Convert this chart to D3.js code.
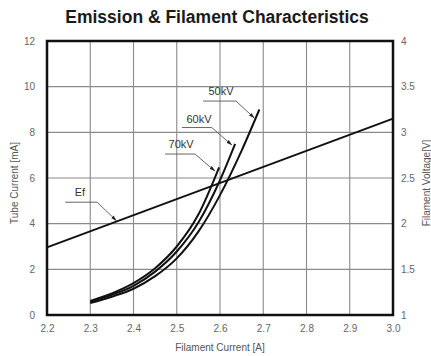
<!DOCTYPE html>
<html>
<head>
<meta charset="utf-8">
<script src="https://cdn.jsdelivr.net/npm/d3@7"></script>
<style>
  body { margin: 0; background: #fff; }
  text { font-family: "Liberation Sans", Arial, sans-serif; }
</style>
</head>
<body>
<div id="container"></div>
<script>
// data
const xTicks = [2.2, 2.3, 2.4, 2.5, 2.6, 2.7, 2.8, 2.9, 3.0];
const yTicks = [0, 2, 4, 6, 8, 10, 12];
const vTicks = [1, 1.5, 2, 2.5, 3, 3.5, 4];

// tube current [mA] vs filament current [A]
const kv50 = [[2.30, 0.52], [2.35, 0.80], [2.40, 1.15], [2.45, 1.70], [2.50, 2.48], [2.55, 3.65], [2.60, 5.25], [2.65, 7.2], [2.691, 9.0]];
const kv60 = [[2.30, 0.58], [2.35, 0.88], [2.40, 1.28], [2.45, 1.90], [2.50, 2.78], [2.55, 4.05], [2.60, 5.9], [2.635, 7.49]];
const kv70 = [[2.30, 0.62], [2.35, 0.95], [2.40, 1.40], [2.45, 2.05], [2.50, 3.0], [2.55, 4.4], [2.598, 6.47]];
// filament voltage [V] vs filament current [A]
const ef = [[2.2, 1.74], [3.0, 3.15]];

// labels with leader lines (data units: A, mA)
const notes = [
  { text: "50kV", at: [2.6024, 9.64], pts: [[2.561, 9.37], [2.637, 9.37], [2.679, 8.63]] },
  { text: "60kV", at: [2.5515, 8.41], pts: [[2.512, 8.21], [2.581, 8.21], [2.627, 7.45]] },
  { text: "70kV", at: [2.510, 7.31], pts: [[2.473, 7.05], [2.542, 7.05], [2.588, 6.31]] },
  { text: "Ef", at: [2.276, 5.19], pts: [[2.242, 4.94], [2.316, 4.94], [2.36, 4.14]] }
];

const W = 431, H = 356;
const m = { top: 41, right: 38, bottom: 41, left: 47 };

const svg = d3.select("#container").append("svg")
  .attr("width", W)
  .attr("height", H);

const x = d3.scaleLinear().domain([2.2, 3.0]).range([m.left, W - m.right]);
const y = d3.scaleLinear().domain([0, 12]).range([H - m.bottom, m.top]);
const yV = d3.scaleLinear().domain([1, 4]).range([H - m.bottom, m.top]);

// arrow head
svg.append("defs").append("marker")
  .attr("id", "arr")
  .attr("viewBox", "0 0 10 10")
  .attr("refX", 9).attr("refY", 5)
  .attr("markerWidth", 6).attr("markerHeight", 6)
  .attr("orient", "auto")
  .append("path").attr("d", "M0,2 L10,5 L0,8 Z").attr("fill", "#222");

// title
svg.append("text")
  .attr("x", 217).attr("y", 23)
  .attr("text-anchor", "middle")
  .style("font-size", "17.5px").style("font-weight", "bold")
  .attr("fill", "#1a1a1a")
  .text("Emission & Filament Characteristics");

// grid
const grid = svg.append("g").attr("stroke", "#8a8a8a").attr("stroke-width", 1.1);
grid.selectAll(".gx").data(xTicks.slice(1, -1)).enter().append("line")
  .attr("x1", d => x(d)).attr("x2", d => x(d))
  .attr("y1", y(0)).attr("y2", y(12));
grid.selectAll(".gy").data(yTicks.slice(1, -1)).enter().append("line")
  .attr("x1", x(2.2)).attr("x2", x(3.0))
  .attr("y1", d => y(d)).attr("y2", d => y(d));

// axes
const axStyle = g => {
  g.select(".domain").remove();
  g.selectAll(".tick line").remove();
  g.selectAll("text").attr("fill", "#666").style("font-size", "10px");
};
svg.append("g")
  .attr("transform", `translate(0,${H - m.bottom})`)
  .call(d3.axisBottom(x).tickValues(xTicks).tickFormat(d3.format(".1f")).tickSize(0).tickPadding(10))
  .call(axStyle);
svg.append("g")
  .attr("transform", `translate(${m.left},0)`)
  .call(d3.axisLeft(y).tickValues(yTicks).tickSize(0).tickPadding(12))
  .call(axStyle);
svg.append("g")
  .attr("transform", `translate(${W - m.right},0)`)
  .call(d3.axisRight(yV).tickValues(vTicks).tickFormat(d => d).tickSize(0).tickPadding(8))
  .call(axStyle);

// axis titles
svg.append("text")
  .attr("x", 220).attr("y", 351)
  .attr("text-anchor", "middle")
  .attr("fill", "#555").style("font-size", "10px")
  .text("Filament Current [A]");
svg.append("text")
  .attr("transform", `translate(18,${(y(0) + y(12)) / 2 + 5}) rotate(-90)`)
  .attr("text-anchor", "middle")
  .attr("fill", "#555").style("font-size", "10px")
  .text("Tube Current [mA]");
svg.append("text")
  .attr("transform", `translate(430,${(y(0) + y(12)) / 2 + 5}) rotate(-90)`)
  .attr("text-anchor", "middle")
  .attr("fill", "#555").style("font-size", "10px")
  .text("Filament Voltage[V]");

// curves
const line = d3.line().x(d => x(d[0])).y(d => y(d[1])).curve(d3.curveMonotoneX);
[kv50, kv60, kv70].forEach(s => {
  svg.append("path")
    .attr("d", line(s))
    .attr("fill", "none")
    .attr("stroke", "#111")
    .attr("stroke-width", 2);
});
svg.append("path")
  .attr("d", d3.line().x(d => x(d[0])).y(d => yV(d[1]))(ef))
  .attr("fill", "none")
  .attr("stroke", "#111")
  .attr("stroke-width", 2);

// labels
const lead = d3.line().x(d => x(d[0])).y(d => y(d[1]));
notes.forEach(n => {
  svg.append("path")
    .attr("d", lead(n.pts))
    .attr("fill", "none")
    .attr("stroke", "#666")
    .attr("stroke-width", 1)
    .attr("marker-end", "url(#arr)");
  svg.append("text")
    .attr("x", x(n.at[0])).attr("y", y(n.at[1]))
    .attr("text-anchor", "middle")
    .attr("fill", "#333").style("font-size", "11px")
    .text(n.text);
});

// frame
svg.append("rect")
  .attr("x", x(2.2)).attr("y", y(12))
  .attr("width", x(3.0) - x(2.2)).attr("height", y(0) - y(12))
  .attr("fill", "none")
  .attr("stroke", "#111")
  .attr("stroke-width", 2.5);
</script>
</body>
</html>
